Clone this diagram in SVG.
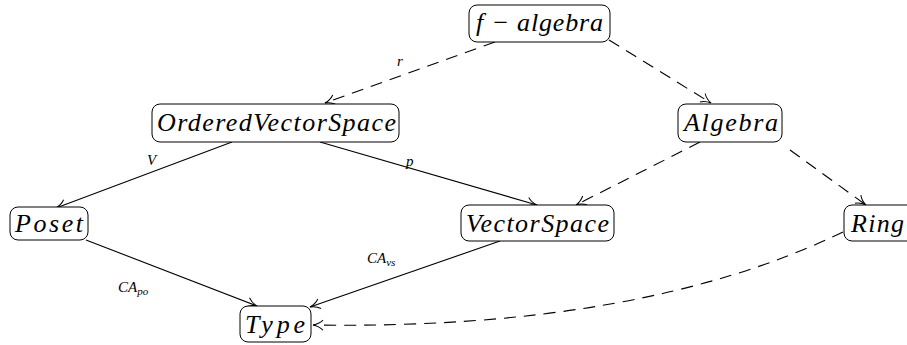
<svg xmlns="http://www.w3.org/2000/svg" width="907" height="345" viewBox="0 0 907 345">
<defs>
<marker id="arr" viewBox="0 0 12 12" refX="11" refY="6" markerWidth="12" markerHeight="12" markerUnits="userSpaceOnUse" orient="auto">
<path d="M1,1 Q5,5 11,6 Q5,7 1,11" fill="none" stroke="#000" stroke-width="1"/>
</marker>
</defs>
<style>
.box{fill:#fff;stroke:#000;stroke-width:1}
.t{font-family:"Liberation Serif","DejaVu Serif",serif;font-style:italic;font-size:26px;fill:#000}
.l{font-family:"Liberation Serif","DejaVu Serif",serif;font-style:italic;font-size:15px;fill:#000}
.s{font-size:11px}
.e{fill:none;stroke:#000;stroke-width:1.1;marker-end:url(#arr)}
.d{stroke-dasharray:12 8}
</style>
<rect width="907" height="345" fill="#fff"/>
<g id="edges">
<path class="e d" d="M495,42 L325,103"/>
<path class="e d" d="M609,40 L711,103"/>
<path class="e" d="M232,142 L56,208"/>
<path class="e" d="M320,142 L537,205"/>
<path class="e d" d="M700,142 L576,205"/>
<path class="e d" d="M790,150 L866,205"/>
<path class="e" d="M86,240 L257,306"/>
<path class="e" d="M500,241 L310,307"/>
<path class="e d" d="M843,232 Q640,330 313,325"/>
<text class="l" x="397" y="66">r</text>
<text class="l" x="147" y="165">V</text>
<text class="l" x="406" y="166">p</text>
<text class="l" x="118" y="292">CA<tspan class="s" dy="3">po</tspan></text>
<text class="l" x="367" y="263">CA<tspan class="s" dy="3">vs</tspan></text>
</g>
<g id="f-algebra">
<rect class="box" x="469" y="5" width="141" height="37" rx="8"/>
<text class="t" x="476" y="31" textLength="127" lengthAdjust="spacing">f − algebra</text>
</g>
<g id="OrderedVectorSpace">
<rect class="box" x="152" y="104" width="247" height="38" rx="8"/>
<text class="t" x="157" y="131" textLength="239" lengthAdjust="spacing">OrderedVectorSpace</text>
</g>
<g id="Algebra">
<rect class="box" x="678" y="104" width="104" height="38" rx="8"/>
<text class="t" x="684" y="131" textLength="94" lengthAdjust="spacing">Algebra</text>
</g>
<g id="Poset">
<rect class="box" x="10" y="207" width="78" height="33" rx="8"/>
<text class="t" x="15" y="232" textLength="68" lengthAdjust="spacing">Poset</text>
</g>
<g id="VectorSpace">
<rect class="box" x="461" y="205" width="153" height="36" rx="8"/>
<text class="t" x="466" y="232" textLength="143" lengthAdjust="spacing">VectorSpace</text>
</g>
<g id="Ring">
<rect class="box" x="844" y="205" width="80" height="36" rx="8"/>
<text class="t" x="851" y="232" textLength="53" lengthAdjust="spacing">Ring</text>
</g>
<g id="Type">
<rect class="box" x="240" y="306" width="71" height="36" rx="8"/>
<text class="t" x="245" y="333" textLength="60" lengthAdjust="spacing">Type</text>
</g>
</svg>
